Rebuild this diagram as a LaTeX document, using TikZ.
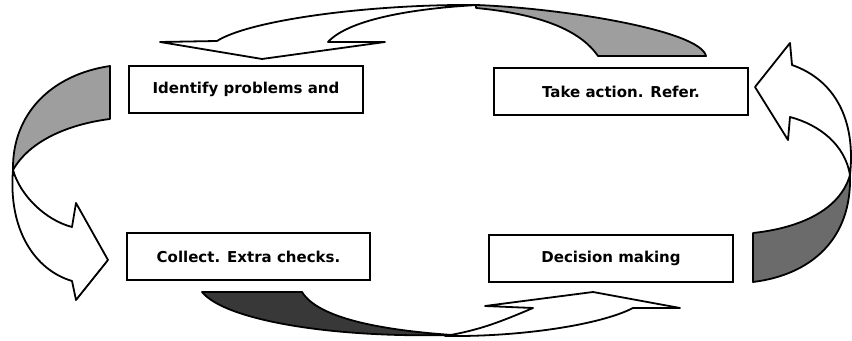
\documentclass[tikz,border=0pt]{standalone}
\usepackage{fontspec}
\setmainfont{DejaVu Sans}

\definecolor{shadelight}{gray}{0.62}
\definecolor{shademid}{gray}{0.42}
\definecolor{shadedark}{gray}{0.22}

\tikzset{
  stepbox/.style={draw, line width=1pt, minimum height=23.5pt, inner sep=2pt,
    font=\bfseries\fontsize{7.5}{9}\selectfont},
  ribbon/.style={draw, line width=0.9pt, line join=round, fill=white},
  band/.style={draw, line width=0.9pt, line join=round}
}

\begin{document}
\begin{tikzpicture}[x=0.5pt, y=-0.5pt]
    \useasboundingbox (0,0) rectangle (852,341);

    % Draw the four step boxes
    \node[stepbox, minimum width=117pt] (identify) at (246,89.5) {Identify problems and};
    \node[stepbox, minimum width=127pt] (action) at (621,91.5) {Take action. Refer.};
    \node[stepbox, minimum width=121.5pt] (collect) at (248.5,256.5) {Collect. Extra checks.};
    \node[stepbox, minimum width=122pt] (decision) at (611,258.5) {Decision making};

    % Draw the top ribbon (shaded back, white arrow)
    \path[band, fill=shadelight] (476,5) .. controls (560,8) and (700,30) .. (706,56)
        -- (598,56) .. controls (580,30) and (540,14) .. (476,8) -- cycle;
    \path[ribbon] (262,59) -- (160,42) -- (217,41)
        .. controls (250,20) and (370,4) .. (478,5)
        .. controls (420,8) and (350,18) .. (328,42) -- (385,42) -- cycle;

    % Draw the left ribbon
    \path[band, fill=shadelight] (110,66) -- (110,119)
        .. controls (70,124) and (30,140) .. (13,170)
        .. controls (12,115) and (50,75) .. (110,66) -- cycle;
    \path[ribbon] (13,170) .. controls (8,230) and (35,270) .. (72,281)
        -- (76,300) -- (108,260) -- (76,203) -- (72,227)
        .. controls (45,220) and (20,195) .. (13,170) -- cycle;

    % Draw the bottom ribbon
    \path[band, fill=shadedark] (202,292) -- (302,292)
        .. controls (318,318) and (380,330) .. (452,335)
        .. controls (330,338) and (225,320) .. (202,292) -- cycle;
    \path[ribbon] (593,292) -- (485,306) -- (533,308)
        .. controls (500,322) and (480,330) .. (445,336)
        .. controls (520,337) and (600,325) .. (633,308) -- (680,308) -- cycle;

    % Draw the right ribbon
    \path[band, fill=shademid] (850,175) .. controls (852,240) and (810,275) .. (753,282)
        -- (753,233) .. controls (800,228) and (840,210) .. (850,175) -- cycle;
    \path[ribbon] (755,87) -- (790,43) -- (792,65)
        .. controls (835,80) and (856,120) .. (850,175)
        .. controls (845,145) and (820,125) .. (790,117) -- (788,140) -- cycle;

\end{tikzpicture}
\end{document}
